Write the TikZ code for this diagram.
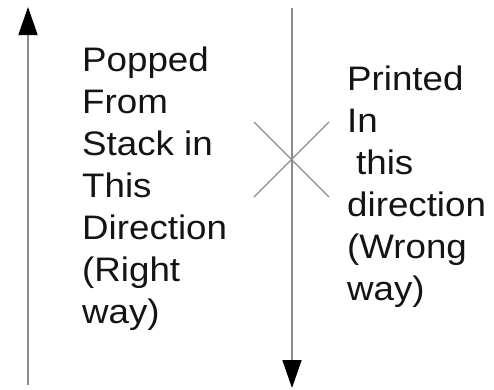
\documentclass[tikz,border=0pt]{standalone}
\usepackage{fontspec}
\setmainfont{Liberation Sans}[FakeStretch=1.08]
\usetikzlibrary{arrows.meta}
\tikzset{
  axisline/.style={draw=black!45, line width=1.8pt},
  crossline/.style={draw=black!45, line width=1.1pt},
  label/.style={anchor=north west, inner sep=0pt, align=left, text=black!92,
    font=\fontsize{34}{42}\selectfont},
  tip/.style={-{Triangle[length=28pt,width=19pt,color=black]}}
}
\begin{document}
\begin{tikzpicture}[x=1pt,y=-1pt]
\useasboundingbox (0,0) rectangle (494,389);
\coordinate (lbot) at (28,385);
\coordinate (ltop) at (28,7);
\coordinate (rtop) at (292,8);
\coordinate (rbot) at (292,388);
\coordinate (xa) at (254,122);
\coordinate (xb) at (329,197);
\coordinate (xc) at (254,197);
\coordinate (xd) at (329,122);
\draw[axisline, tip] (lbot) -- (ltop);
\draw[axisline, tip] (rtop) -- (rbot);
\draw[crossline] (xa) -- (xb);
\draw[crossline] (xc) -- (xd);
\node[label] (left) at (82,47) {Popped\\From\\Stack in\\This\\Direction\\(Right\\way)};
\node[label] (right) at (347,66) {Printed\\In\\\hspace*{9pt}this\\direction\\(Wrong\\way)};
\end{tikzpicture}
\end{document}
